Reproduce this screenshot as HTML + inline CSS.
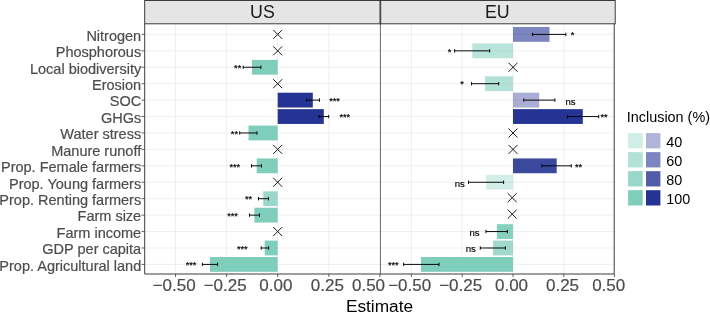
<!DOCTYPE html>
<html><head><meta charset="utf-8"><title>Estimate</title>
<style>html,body{margin:0;padding:0;background:#fff}svg{display:block}text{font-family:"Liberation Sans",Arial,Helvetica,sans-serif}</style></head><body>
<svg width="710" height="312" viewBox="0 0 710 312">
<rect width="710" height="312" fill="#fff"/>
<g stroke="#ebebeb" stroke-width="0.8" fill="none">
<line x1="144.7" x2="614.4" y1="34.40" y2="34.40"/>
<line x1="144.7" x2="614.4" y1="50.83" y2="50.83"/>
<line x1="144.7" x2="614.4" y1="67.26" y2="67.26"/>
<line x1="144.7" x2="614.4" y1="83.69" y2="83.69"/>
<line x1="144.7" x2="614.4" y1="100.12" y2="100.12"/>
<line x1="144.7" x2="614.4" y1="116.55" y2="116.55"/>
<line x1="144.7" x2="614.4" y1="132.98" y2="132.98"/>
<line x1="144.7" x2="614.4" y1="149.41" y2="149.41"/>
<line x1="144.7" x2="614.4" y1="165.84" y2="165.84"/>
<line x1="144.7" x2="614.4" y1="182.27" y2="182.27"/>
<line x1="144.7" x2="614.4" y1="198.70" y2="198.70"/>
<line x1="144.7" x2="614.4" y1="215.13" y2="215.13"/>
<line x1="144.7" x2="614.4" y1="231.56" y2="231.56"/>
<line x1="144.7" x2="614.4" y1="247.99" y2="247.99"/>
<line x1="144.7" x2="614.4" y1="264.42" y2="264.42"/>
<line x1="175.50" x2="175.50" y1="24.0" y2="274.0"/>
<line x1="226.60" x2="226.60" y1="24.0" y2="274.0"/>
<line x1="277.70" x2="277.70" y1="24.0" y2="274.0"/>
<line x1="328.80" x2="328.80" y1="24.0" y2="274.0"/>
<line x1="411.40" x2="411.40" y1="24.0" y2="274.0"/>
<line x1="462.20" x2="462.20" y1="24.0" y2="274.0"/>
<line x1="513.00" x2="513.00" y1="24.0" y2="274.0"/>
<line x1="563.80" x2="563.80" y1="24.0" y2="274.0"/>
</g>
<rect x="252.05" y="59.86" width="25.65" height="14.8" fill="#7fcdbb" fill-opacity="1"/>
<rect x="277.70" y="92.72" width="35.10" height="14.8" fill="#253494" fill-opacity="1"/>
<rect x="277.70" y="109.15" width="46.10" height="14.8" fill="#253494" fill-opacity="1"/>
<rect x="248.50" y="125.58" width="29.20" height="14.8" fill="#7fcdbb" fill-opacity="1"/>
<rect x="256.70" y="158.44" width="21.00" height="14.8" fill="#7fcdbb" fill-opacity="1"/>
<rect x="263.30" y="191.30" width="14.40" height="14.8" fill="#7fcdbb" fill-opacity="0.8"/>
<rect x="254.40" y="207.73" width="23.30" height="14.8" fill="#7fcdbb" fill-opacity="1"/>
<rect x="264.70" y="240.59" width="13.00" height="14.8" fill="#7fcdbb" fill-opacity="1"/>
<rect x="209.90" y="257.02" width="67.80" height="14.8" fill="#7fcdbb" fill-opacity="1"/>
<path d="M243.20 65.56V68.96M243.20 67.26H260.90M260.90 65.56V68.96" stroke="#000" stroke-width="0.95" fill="none"/>
<text x="237.70" y="70.96" font-size="9.2" text-anchor="middle" fill="#000" stroke="#000" stroke-width="0.2">**</text>
<path d="M306.70 98.42V101.82M306.70 100.12H319.50M319.50 98.42V101.82" stroke="#000" stroke-width="0.95" fill="none"/>
<text x="334.50" y="103.82" font-size="9.2" text-anchor="middle" fill="#000" stroke="#000" stroke-width="0.2">***</text>
<path d="M319.00 114.85V118.25M319.00 116.55H328.70M328.70 114.85V118.25" stroke="#000" stroke-width="0.95" fill="none"/>
<text x="344.75" y="120.25" font-size="9.2" text-anchor="middle" fill="#000" stroke="#000" stroke-width="0.2">***</text>
<path d="M239.70 131.28V134.68M239.70 132.98H257.00M257.00 131.28V134.68" stroke="#000" stroke-width="0.95" fill="none"/>
<text x="234.40" y="136.68" font-size="9.2" text-anchor="middle" fill="#000" stroke="#000" stroke-width="0.2">**</text>
<path d="M251.50 164.14V167.54M251.50 165.84H261.50M261.50 164.14V167.54" stroke="#000" stroke-width="0.95" fill="none"/>
<text x="234.75" y="169.54" font-size="9.2" text-anchor="middle" fill="#000" stroke="#000" stroke-width="0.2">***</text>
<path d="M258.50 197.00V200.40M258.50 198.70H268.50M268.50 197.00V200.40" stroke="#000" stroke-width="0.95" fill="none"/>
<text x="248.50" y="202.40" font-size="9.2" text-anchor="middle" fill="#000" stroke="#000" stroke-width="0.2">**</text>
<path d="M249.50 213.43V216.83M249.50 215.13H259.50M259.50 213.43V216.83" stroke="#000" stroke-width="0.95" fill="none"/>
<text x="232.60" y="218.83" font-size="9.2" text-anchor="middle" fill="#000" stroke="#000" stroke-width="0.2">***</text>
<path d="M261.20 246.29V249.69M261.20 247.99H268.60M268.60 246.29V249.69" stroke="#000" stroke-width="0.95" fill="none"/>
<text x="242.30" y="251.69" font-size="9.2" text-anchor="middle" fill="#000" stroke="#000" stroke-width="0.2">***</text>
<path d="M202.40 262.72V266.12M202.40 264.42H217.60M217.60 262.72V266.12" stroke="#000" stroke-width="0.95" fill="none"/>
<text x="191.00" y="268.12" font-size="9.2" text-anchor="middle" fill="#000" stroke="#000" stroke-width="0.2">***</text>
<path d="M273.20 29.90L282.20 38.90M273.20 38.90L282.20 29.90" stroke="#111" stroke-width="0.95" fill="none"/>
<path d="M273.20 46.33L282.20 55.33M273.20 55.33L282.20 46.33" stroke="#111" stroke-width="0.95" fill="none"/>
<path d="M273.20 79.19L282.20 88.19M273.20 88.19L282.20 79.19" stroke="#111" stroke-width="0.95" fill="none"/>
<path d="M273.20 144.91L282.20 153.91M273.20 153.91L282.20 144.91" stroke="#111" stroke-width="0.95" fill="none"/>
<path d="M273.20 177.77L282.20 186.77M273.20 186.77L282.20 177.77" stroke="#111" stroke-width="0.95" fill="none"/>
<path d="M273.20 227.06L282.20 236.06M273.20 236.06L282.20 227.06" stroke="#111" stroke-width="0.95" fill="none"/>
<rect x="513.00" y="27.00" width="36.50" height="14.8" fill="#253494" fill-opacity="0.6"/>
<rect x="472.30" y="43.43" width="40.70" height="14.8" fill="#7fcdbb" fill-opacity="0.55"/>
<rect x="485.10" y="76.29" width="27.90" height="14.8" fill="#7fcdbb" fill-opacity="0.6"/>
<rect x="513.00" y="92.72" width="26.20" height="14.8" fill="#253494" fill-opacity="0.4"/>
<rect x="513.00" y="109.15" width="69.80" height="14.8" fill="#253494" fill-opacity="1"/>
<rect x="513.00" y="158.44" width="43.70" height="14.8" fill="#253494" fill-opacity="0.9"/>
<rect x="486.20" y="174.87" width="26.80" height="14.8" fill="#7fcdbb" fill-opacity="0.35"/>
<rect x="496.90" y="224.16" width="16.10" height="14.8" fill="#7fcdbb" fill-opacity="0.95"/>
<rect x="493.10" y="240.59" width="19.90" height="14.8" fill="#7fcdbb" fill-opacity="0.75"/>
<rect x="421.00" y="257.02" width="92.00" height="14.8" fill="#7fcdbb" fill-opacity="1"/>
<path d="M532.60 32.70V36.10M532.60 34.40H565.90M565.90 32.70V36.10" stroke="#000" stroke-width="0.95" fill="none"/>
<text x="572.60" y="38.10" font-size="9.2" text-anchor="middle" fill="#000" stroke="#000" stroke-width="0.2">*</text>
<path d="M454.60 49.13V52.53M454.60 50.83H489.70M489.70 49.13V52.53" stroke="#000" stroke-width="0.95" fill="none"/>
<text x="449.50" y="54.53" font-size="9.2" text-anchor="middle" fill="#000" stroke="#000" stroke-width="0.2">*</text>
<path d="M471.50 81.99V85.39M471.50 83.69H498.70M498.70 81.99V85.39" stroke="#000" stroke-width="0.95" fill="none"/>
<text x="462.00" y="87.39" font-size="9.2" text-anchor="middle" fill="#000" stroke="#000" stroke-width="0.2">*</text>
<path d="M523.80 98.42V101.82M523.80 100.12H554.90M554.90 98.42V101.82" stroke="#000" stroke-width="0.95" fill="none"/>
<text x="570.50" y="104.52" font-size="9.6" text-anchor="middle" fill="#000" stroke="#000" stroke-width="0.15">ns</text>
<path d="M567.40 114.85V118.25M567.40 116.55H598.70M598.70 114.85V118.25" stroke="#000" stroke-width="0.95" fill="none"/>
<text x="604.10" y="120.25" font-size="9.2" text-anchor="middle" fill="#000" stroke="#000" stroke-width="0.2">**</text>
<path d="M541.80 164.14V167.54M541.80 165.84H571.30M571.30 164.14V167.54" stroke="#000" stroke-width="0.95" fill="none"/>
<text x="578.50" y="169.54" font-size="9.2" text-anchor="middle" fill="#000" stroke="#000" stroke-width="0.2">**</text>
<path d="M468.50 180.57V183.97M468.50 182.27H503.60M503.60 180.57V183.97" stroke="#000" stroke-width="0.95" fill="none"/>
<text x="459.75" y="186.67" font-size="9.6" text-anchor="middle" fill="#000" stroke="#000" stroke-width="0.15">ns</text>
<path d="M485.90 229.86V233.26M485.90 231.56H507.40M507.40 229.86V233.26" stroke="#000" stroke-width="0.95" fill="none"/>
<text x="474.60" y="235.96" font-size="9.6" text-anchor="middle" fill="#000" stroke="#000" stroke-width="0.15">ns</text>
<path d="M480.30 246.29V249.69M480.30 247.99H505.40M505.40 246.29V249.69" stroke="#000" stroke-width="0.95" fill="none"/>
<text x="470.75" y="252.39" font-size="9.6" text-anchor="middle" fill="#000" stroke="#000" stroke-width="0.15">ns</text>
<path d="M403.60 262.72V266.12M403.60 264.42H439.00M439.00 262.72V266.12" stroke="#000" stroke-width="0.95" fill="none"/>
<text x="393.35" y="268.12" font-size="9.2" text-anchor="middle" fill="#000" stroke="#000" stroke-width="0.2">***</text>
<path d="M508.50 62.76L517.50 71.76M508.50 71.76L517.50 62.76" stroke="#111" stroke-width="0.95" fill="none"/>
<path d="M508.50 128.48L517.50 137.48M508.50 137.48L517.50 128.48" stroke="#111" stroke-width="0.95" fill="none"/>
<path d="M508.50 144.91L517.50 153.91M508.50 153.91L517.50 144.91" stroke="#111" stroke-width="0.95" fill="none"/>
<path d="M507.70 193.20L516.70 202.20M507.70 202.20L516.70 193.20" stroke="#111" stroke-width="0.95" fill="none"/>
<path d="M507.70 209.63L516.70 218.63M507.70 218.63L516.70 209.63" stroke="#111" stroke-width="0.95" fill="none"/>
<rect x="144.7" y="0.5" width="470.50" height="23.3" fill="#e5e5e5"/>
<rect x="144.7" y="0.5" width="236.00" height="23.3" fill="none" stroke="#333" stroke-width="0.95"/>
<rect x="380.0" y="0.5" width="235.20" height="23.3" fill="none" stroke="#333" stroke-width="0.95"/>
<text x="262.40" y="18.4" font-size="17.8" text-anchor="middle" fill="#1a1a1a">US</text>
<text x="497.25" y="18.4" font-size="17.8" text-anchor="middle" fill="#1a1a1a">EU</text>
<path d="M144.7 24.0V274.0H614.1999999999999V24.0" fill="none" stroke="#333" stroke-width="0.95"/>
<path d="M380.40000000000003 24.0V274.0" fill="none" stroke="#444" stroke-width="0.8"/>
<g stroke="#333" stroke-width="0.75">
<line x1="141.5" x2="144.7" y1="34.40" y2="34.40"/>
<line x1="141.5" x2="144.7" y1="50.83" y2="50.83"/>
<line x1="141.5" x2="144.7" y1="67.26" y2="67.26"/>
<line x1="141.5" x2="144.7" y1="83.69" y2="83.69"/>
<line x1="141.5" x2="144.7" y1="100.12" y2="100.12"/>
<line x1="141.5" x2="144.7" y1="116.55" y2="116.55"/>
<line x1="141.5" x2="144.7" y1="132.98" y2="132.98"/>
<line x1="141.5" x2="144.7" y1="149.41" y2="149.41"/>
<line x1="141.5" x2="144.7" y1="165.84" y2="165.84"/>
<line x1="141.5" x2="144.7" y1="182.27" y2="182.27"/>
<line x1="141.5" x2="144.7" y1="198.70" y2="198.70"/>
<line x1="141.5" x2="144.7" y1="215.13" y2="215.13"/>
<line x1="141.5" x2="144.7" y1="231.56" y2="231.56"/>
<line x1="141.5" x2="144.7" y1="247.99" y2="247.99"/>
<line x1="141.5" x2="144.7" y1="264.42" y2="264.42"/>
<line x1="175.50" x2="175.50" y1="274.0" y2="277.0"/>
<line x1="226.60" x2="226.60" y1="274.0" y2="277.0"/>
<line x1="277.70" x2="277.70" y1="274.0" y2="277.0"/>
<line x1="328.80" x2="328.80" y1="274.0" y2="277.0"/>
<line x1="379.90" x2="379.90" y1="274.0" y2="277.0"/>
<line x1="411.40" x2="411.40" y1="274.0" y2="277.0"/>
<line x1="462.20" x2="462.20" y1="274.0" y2="277.0"/>
<line x1="513.00" x2="513.00" y1="274.0" y2="277.0"/>
<line x1="563.80" x2="563.80" y1="274.0" y2="277.0"/>
<line x1="614.60" x2="614.60" y1="274.0" y2="277.0"/>
</g>
<g font-size="14.5" fill="#4d4d4d" text-anchor="end" stroke="#4d4d4d" stroke-width="0.2">
<text x="141.2" y="40.70">Nitrogen</text>
<text x="141.2" y="57.13">Phosphorous</text>
<text x="141.2" y="73.56">Local biodiversity</text>
<text x="141.2" y="89.99">Erosion</text>
<text x="141.2" y="106.42">SOC</text>
<text x="141.2" y="122.85">GHGs</text>
<text x="141.2" y="139.28">Water stress</text>
<text x="141.2" y="155.71">Manure runoff</text>
<text x="141.2" y="172.14">Prop. Female farmers</text>
<text x="141.2" y="188.57">Prop. Young farmers</text>
<text x="141.2" y="205.00">Prop. Renting farmers</text>
<text x="141.2" y="221.43">Farm size</text>
<text x="141.2" y="237.86">Farm income</text>
<text x="141.2" y="254.29">GDP per capita</text>
<text x="141.2" y="270.72">Prop. Agricultural land</text>
</g>
<g font-size="17" fill="#4d4d4d" text-anchor="middle" stroke="#4d4d4d" stroke-width="0.2">
<text x="174.20" y="290.7">−0.50</text>
<text x="225.20" y="290.7">−0.25</text>
<text x="275.80" y="290.7">0.00</text>
<text x="327.40" y="290.7">0.25</text>
<text x="368.50" y="290.7">0.50</text>
<text x="409.70" y="290.7">−0.50</text>
<text x="460.70" y="290.7">−0.25</text>
<text x="511.50" y="290.7">0.00</text>
<text x="562.50" y="290.7">0.25</text>
<text x="608.70" y="290.7">0.50</text>
</g>
<text x="379.5" y="311.7" font-size="17.3" text-anchor="middle" fill="#000">Estimate</text>
<text x="626.8" y="121.6" font-size="14.4" fill="#000">Inclusion (%)</text>
<rect x="628.1" y="133.10" width="14.6" height="15.3" fill="#7fcdbb" fill-opacity="0.37"/>
<rect x="646" y="133.10" width="14.4" height="15.3" fill="#253494" fill-opacity="0.37"/>
<text x="666.3" y="146.65" font-size="14.4" fill="#000">40</text>
<rect x="628.1" y="152.13" width="14.6" height="15.3" fill="#7fcdbb" fill-opacity="0.6"/>
<rect x="646" y="152.13" width="14.4" height="15.3" fill="#253494" fill-opacity="0.6"/>
<text x="666.3" y="165.68" font-size="14.4" fill="#000">60</text>
<rect x="628.1" y="171.16" width="14.6" height="15.3" fill="#7fcdbb" fill-opacity="0.8"/>
<rect x="646" y="171.16" width="14.4" height="15.3" fill="#253494" fill-opacity="0.8"/>
<text x="666.3" y="184.71" font-size="14.4" fill="#000">80</text>
<rect x="628.1" y="190.19" width="14.6" height="15.3" fill="#7fcdbb" fill-opacity="1.0"/>
<rect x="646" y="190.19" width="14.4" height="15.3" fill="#253494" fill-opacity="1.0"/>
<text x="666.3" y="203.74" font-size="14.4" fill="#000">100</text>
</svg></body></html>
